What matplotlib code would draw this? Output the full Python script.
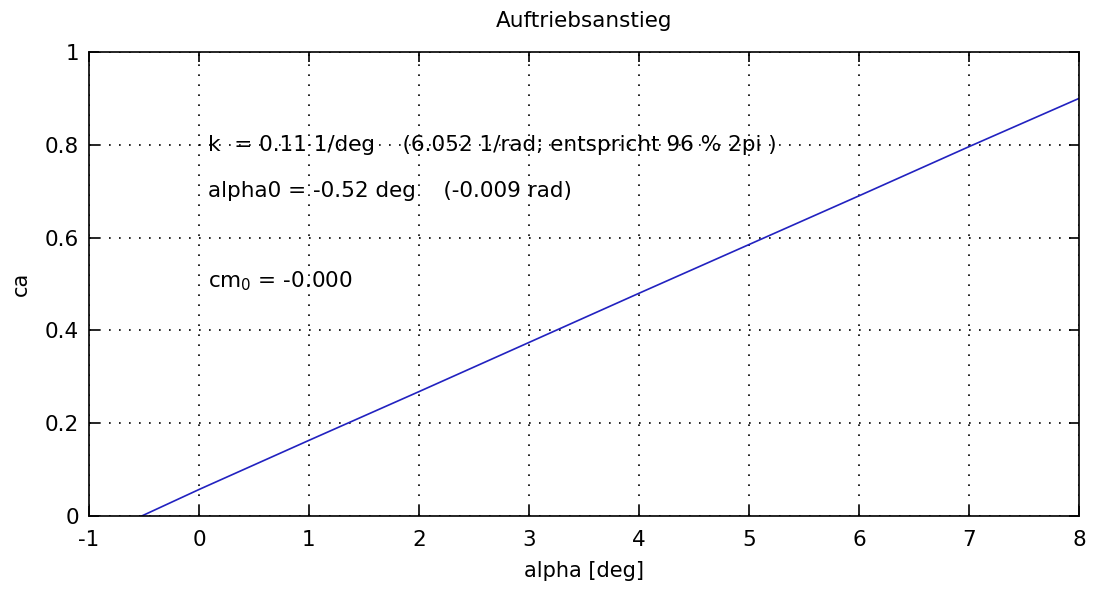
import matplotlib
matplotlib.use('Agg')
import matplotlib.pyplot as plt

plt.rcParams['font.family'] = ['DejaVu Sans']
plt.rcParams['axes.unicode_minus'] = False

# lift curve values
alpha = [-0.52, 0, 1, 2, 3, 4, 5, 6, 7, 8]
ca = [0.0, 0.057, 0.163, 0.268, 0.374, 0.48, 0.585, 0.69, 0.796, 0.90]

xticks = [-1, 0, 1, 2, 3, 4, 5, 6, 7, 8]
yticks = [0, 0.2, 0.4, 0.6, 0.8, 1]
ytick_labels = ['0', '0.2', '0.4', '0.6', '0.8', '1']

notes = ['k  = 0.11 1/deg    (6.052 1/rad; entspricht 96 % 2pi )',
         'alpha0 = -0.52 deg    (-0.009 rad)',
         r'cm$_0$ = -0.000']
note_y = [0.80, 0.70, 0.505]

fig = plt.figure(figsize=(10.93, 5.89), dpi=100)
ax = fig.add_axes([0.0814, 0.124, 0.9058, 0.7877])

ax.plot(alpha, ca, color='#2222c0', linewidth=1.2)

ax.set_xlim(-1, 8)
ax.set_ylim(0, 1)
ax.set_xticks(xticks)
ax.set_yticks(yticks)
ax.set_yticklabels(ytick_labels)
ax.tick_params(direction='in', length=7, width=1.2, labelsize=15.5, top=True, right=True, pad=7)
ax.tick_params(axis='x', pad=10)
ax.grid(True, color='black', linestyle=(0, (1, 5)), linewidth=1.2)
for s in ax.spines.values():
    s.set_linewidth(1.2)

for t, y in zip(notes, note_y):
    ax.text(0.08, y, t, fontsize=15.5, va='center', ha='left')

ax.set_title('Auftriebsanstieg', fontsize=15.5, pad=18)
ax.set_xlabel('alpha [deg]', fontsize=15, labelpad=8)
ax.set_ylabel('ca', fontsize=15, labelpad=10)

fig.savefig('out.png', dpi=100)
